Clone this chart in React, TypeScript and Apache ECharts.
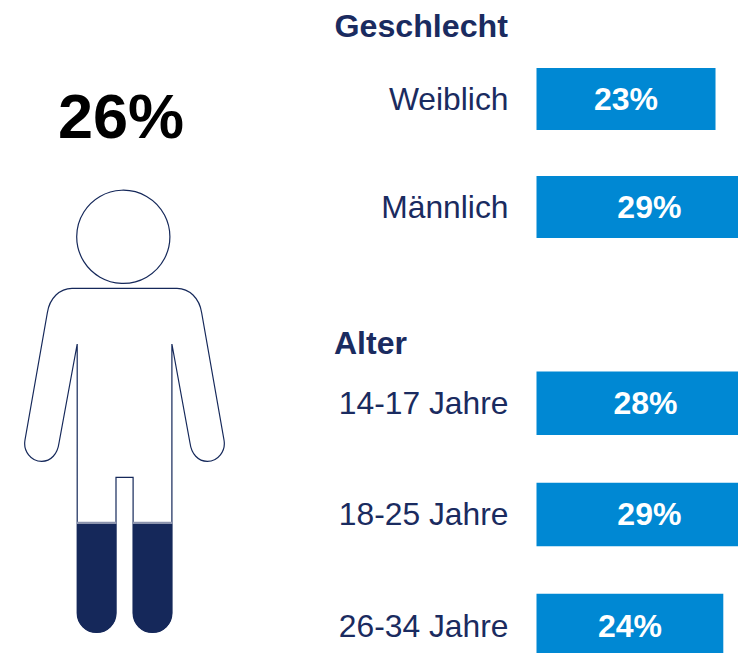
import React, { useEffect, useRef } from "react";
import * as echarts from "echarts";

const genderCategories = ["Weiblich", "Männlich"];
const genderValues = [23, 29];
const ageCategories = ["14-17 Jahre", "18-25 Jahre", "26-34 Jahre"];
const ageValues = [28, 29, 24];
const totalLabel = "26%";
const genderHeading = "Geschlecht";
const ageHeading = "Alter";

const NAVY = "#15285A";
const TEXT_NAVY = "#1A2B60";
const BLUE = "#0088D3";
const FONT = '"Liberation Sans", Arial, sans-serif';

const bodyPath =
  "M72 288.3 L177 288.3 C189 288.3 199.5 298 201.7 313 L224 440 " +
  "C226 451 218 461.3 207.3 461.3 C198 461.3 191.5 454 190 443 L171.9 344 L171.9 613 " +
  "A19.4 19.4 0 0 1 133.1 613 L133.1 477.4 L116 477.4 L116 613 A19.4 19.4 0 0 1 77.2 613 L77.2 344 " +
  "L59 443 C57.5 454 51 461.3 41.7 461.3 C31 461.3 23 451 25 440 L47.3 313 C49.5 298 60 288.3 72 288.3 Z";
const leftLegPath = "M77 524 L116.3 524 L116.3 613 A19.65 19.65 0 0 1 77 613 Z";
const rightLegPath = "M132.9 524 L172.2 524 L172.2 613 A19.65 19.65 0 0 1 132.9 613 Z";

echarts.graphic.registerShape("personBody", echarts.graphic.extendPath(bodyPath, {}));
echarts.graphic.registerShape("personLegL", echarts.graphic.extendPath(leftLegPath, {}));
echarts.graphic.registerShape("personLegR", echarts.graphic.extendPath(rightLegPath, {}));

const yAxisFor = (gridIndex: number, data: string[]) => ({
  type: "category" as const,
  gridIndex,
  data,
  inverse: true,
  axisLine: { show: false },
  axisTick: { show: false },
  axisLabel: { color: TEXT_NAVY, fontFamily: FONT, fontSize: 31.8, margin: 28, align: "right" as const, padding: [0, 0, 2, 0] },
});
const xAxisFor = (gridIndex: number) => ({
  type: "value" as const,
  gridIndex,
  min: 0,
  max: 30,
  show: false,
  splitLine: { show: false },
});
const barFor = (index: number, values: number[], barWidth: number) => ({
  type: "bar" as const,
  xAxisIndex: index,
  yAxisIndex: index,
  data: values,
  barWidth,
  itemStyle: { color: BLUE },
  label: {
    show: true,
    position: "inside" as const,
    formatter: "{c}%",
    color: "#fff",
    fontFamily: FONT,
    fontWeight: "bold" as const,
    fontSize: 32,
  },
});

export default function App() {
  const ref = useRef<HTMLDivElement>(null);
  useEffect(() => {
    document.body.style.margin = "0";
    document.body.style.overflow = "hidden";
    const chart = echarts.init(ref.current!, undefined, { renderer: "svg" });
    chart.setOption({
      animation: false,
      backgroundColor: "#fff",
      grid: [
        { left: 536.5, top: 45, width: 233.5, height: 216 },
        { left: 536.5, top: 347.6, width: 233.5, height: 333.6 },
      ],
      xAxis: [xAxisFor(0), xAxisFor(1)],
      yAxis: [yAxisFor(0, genderCategories), yAxisFor(1, ageCategories)],
      series: [barFor(0, genderValues, 62), barFor(1, ageValues, 63.5)],
      graphic: [
        { type: "text", x: 508, y: 26, style: { text: genderHeading, fill: TEXT_NAVY, font: `bold 32.2px ${FONT}`, align: "right", verticalAlign: "middle" } },
        { type: "text", x: 334, y: 343, style: { text: ageHeading, fill: TEXT_NAVY, font: `bold 32px ${FONT}`, align: "left", verticalAlign: "middle" } },
        { type: "text", x: 121, y: 116, style: { text: totalLabel, fill: "#000", font: `bold 63px ${FONT}`, align: "center", verticalAlign: "middle" } },
        { type: "circle", shape: { cx: 123.3, cy: 236.8, r: 46.6 }, style: { fill: "#fff", stroke: NAVY, lineWidth: 1.2 } },
        { type: "personBody", style: { fill: "#fff", stroke: NAVY, lineWidth: 1.2 } },
        { type: "rect", shape: { x: 77, y: 521.7, width: 39.3, height: 2.5 }, style: { fill: "#8C94AE" } },
        { type: "rect", shape: { x: 132.9, y: 521.7, width: 39.3, height: 2.5 }, style: { fill: "#8C94AE" } },
        { type: "personLegL", style: { fill: NAVY } },
        { type: "personLegR", style: { fill: NAVY } },
      ],
    });
    return () => chart.dispose();
  }, []);
  return (
    <div style={{ width: 738, height: 653, overflow: "hidden" }}>
      <div ref={ref} style={{ width: 800, height: 700 }} />
    </div>
  );
}
